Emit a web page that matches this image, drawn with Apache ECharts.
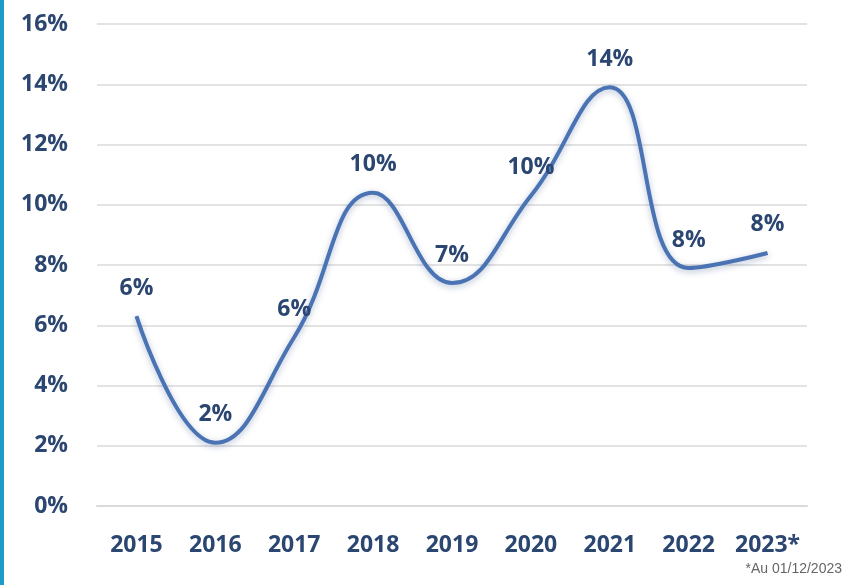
<!DOCTYPE html>
<html>
<head>
<meta charset="utf-8">
<script src="https://cdn.jsdelivr.net/npm/echarts@6/dist/echarts.min.js"></script>
<style>
    html, body { margin: 0; padding: 0; background: #fff; }
    #main { width: 845px; height: 585px; }
</style>
</head>
<body>
<div id="main"></div>
<script>
    // données
    var years = ['2015', '2016', '2017', '2018', '2019', '2020', '2021', '2022', '2023*'];
    var rates = [6.3, 2.1, 5.6, 10.4, 7.4, 10.3, 13.9, 7.9, 8.4];
    var yTicks = [0, 2, 4, 6, 8, 10, 12, 14, 16];
    var footnote = '*Au 01/12/2023';

    var textColor = '#2b4670';
    var chart = echarts.init(document.getElementById('main'));

    chart.setOption({
        animation: false,
        grid: { left: 97, right: 38, top: 24, bottom: 79 },
        graphic: [
            { type: 'rect', left: 0, top: 0, shape: { width: 4, height: 585 }, style: { fill: '#1e9bc6' } },
            {
                type: 'text', right: 3, top: 562,
                style: { text: footnote, fill: '#666', font: '14px "Liberation Sans", Arial, sans-serif' }
            }
        ],
        xAxis: {
            type: 'category',
            data: years,
            axisLine: { lineStyle: { color: '#d9d9d9', width: 2 } },
            axisTick: { show: false },
            axisLabel: {
                interval: 0,
                color: textColor, fontSize: 23, fontWeight: 'bold',
                fontFamily: '"Open Sans", sans-serif', margin: 28
            }
        },
        yAxis: {
            type: 'value',
            min: yTicks[0],
            max: yTicks[yTicks.length - 1],
            interval: 2,
            axisLabel: {
                formatter: '{value}%', color: textColor, fontSize: 23, fontWeight: 'bold',
                fontFamily: '"Open Sans", sans-serif', margin: 29
            },
            splitLine: { lineStyle: { color: '#e3e3e3', width: 2 } }
        },
        series: [{
            type: 'line',
            data: rates,
            smooth: 0.45,
            showSymbol: true,
            symbol: 'circle',
            symbolSize: 1,
            itemStyle: { color: 'rgba(0,0,0,0)' },
            lineStyle: {
                color: '#4a73b3', width: 4,
                shadowColor: 'rgba(40,70,130,0.35)', shadowBlur: 6, shadowOffsetY: 2
            },
            label: {
                show: true,
                position: 'top',
                distance: 16,
                formatter: function (p) { return Math.round(p.value) + '%'; },
                color: textColor, fontSize: 23, fontWeight: 'bold',
                fontFamily: '"Open Sans", sans-serif'
            }
        }]
    });
</script>
</body>
</html>
